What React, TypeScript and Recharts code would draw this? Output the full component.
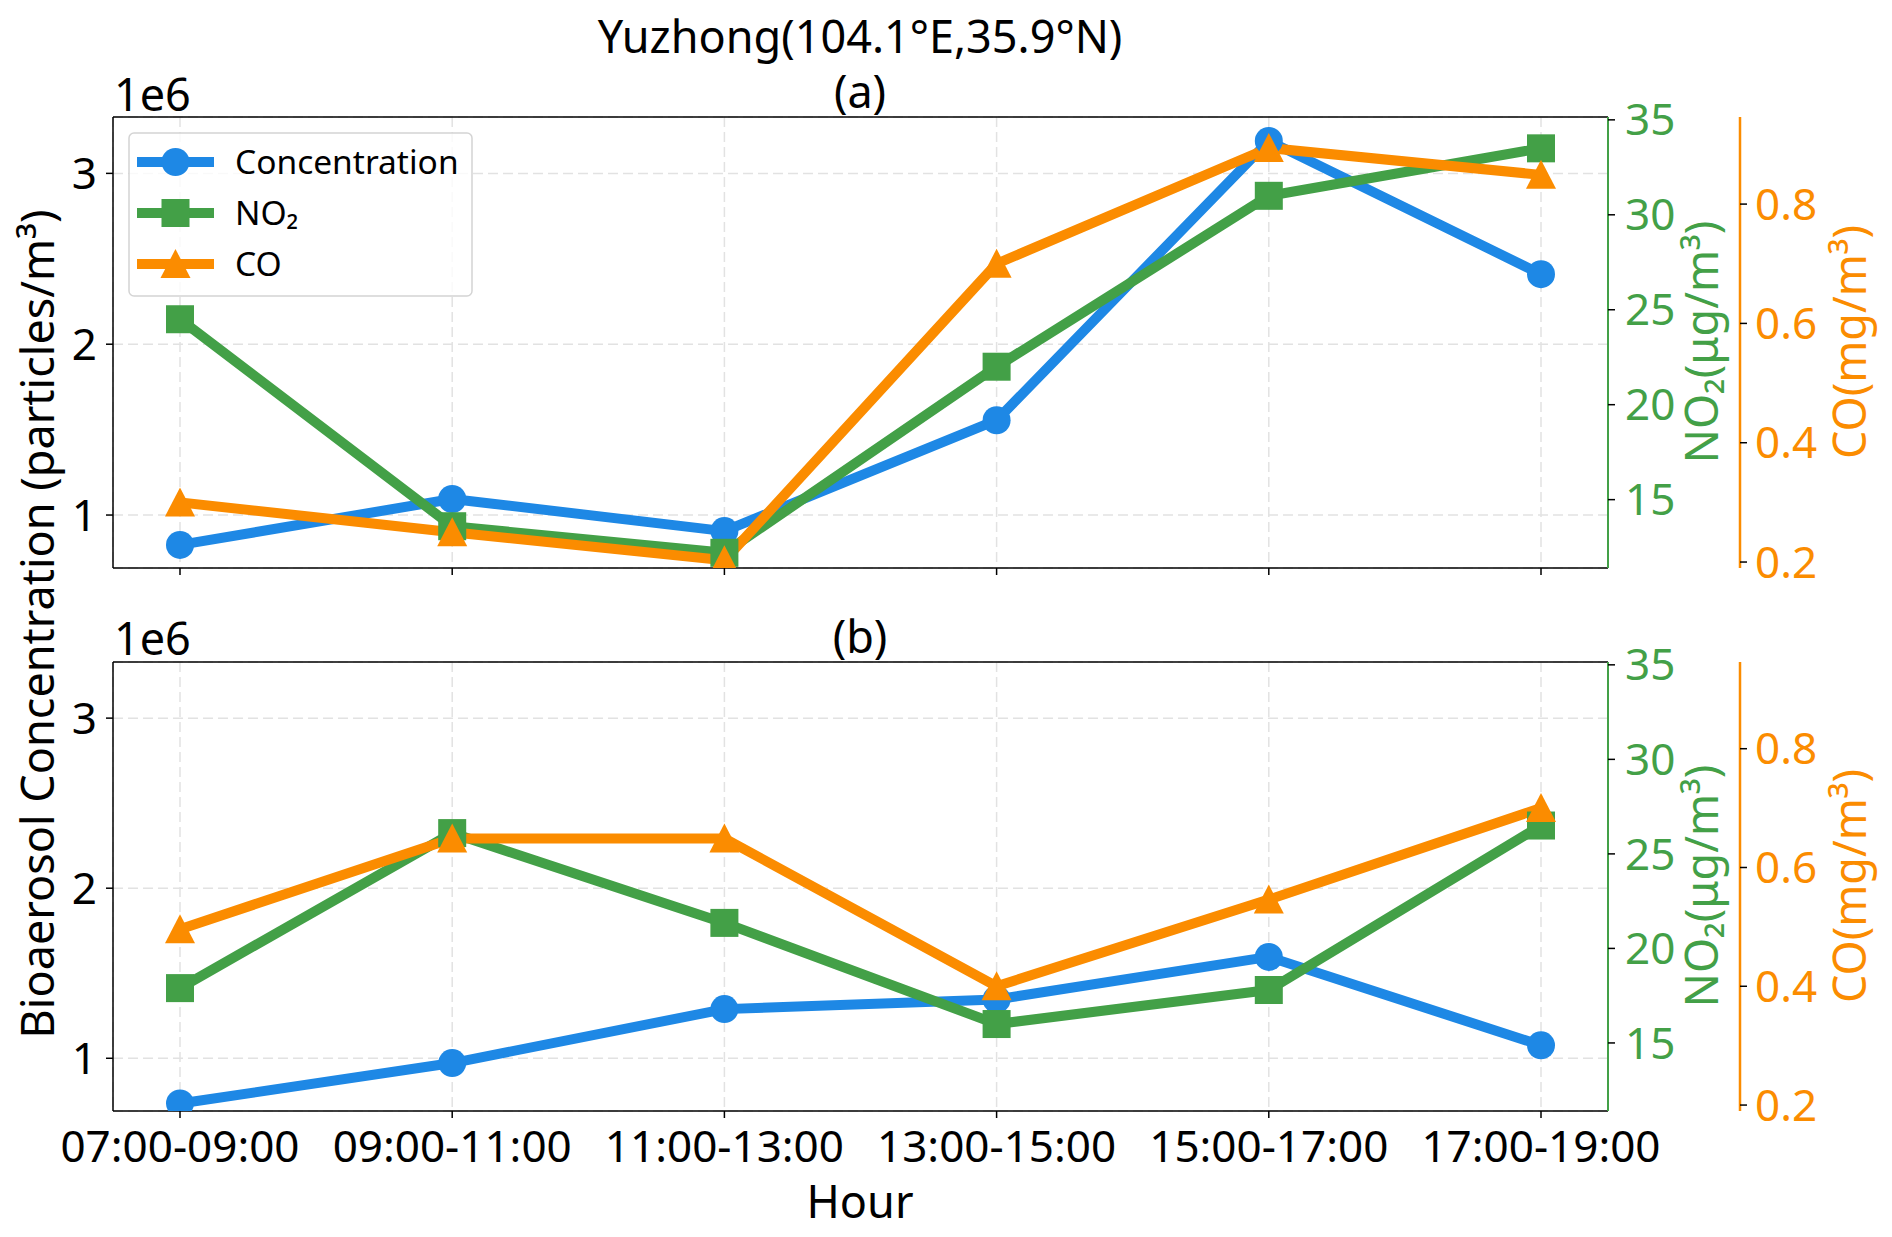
import { CartesianGrid, Line, LineChart, ReferenceLine, XAxis, YAxis } from "recharts";

const hours = ["07:00-09:00", "09:00-11:00", "11:00-13:00", "13:00-15:00", "15:00-17:00", "17:00-19:00"];

// panel (a)
const concA = [825000, 1094000, 906000, 1555000, 3190000, 2410000];
const no2A = [24.5, 13.6, 12.2, 22.0, 31.0, 33.5];
const coA = [0.3, 0.25, 0.203, 0.7, 0.894, 0.849];

// panel (b)
const concB = [734000, 972000, 1289000, 1346000, 1596000, 1076000];
const no2B = [17.9, 26.1, 21.35, 16.0, 17.8, 26.5];
const coB = [0.496, 0.649, 0.649, 0.4, 0.546, 0.7];

const concTicks = [1000000, 2000000, 3000000];
const no2Ticks = [15, 20, 25, 30, 35];
const coTicks = [0.2, 0.4, 0.6, 0.8];

const CONC_DOMAIN = [690000, 3330000];
const NO2_DOMAIN = [11.4, 35.15];
const CO_DOMAIN = [0.19, 0.946];

const BLUE = "#1E88E5";
const GREEN = "#43A047";
const ORANGE = "#FB8C00";
const FONT = '"Noto Sans", sans-serif';

const circleDot = (p: any) =>
  p.cx == null ? null : <circle key={`c-${p.index}`} cx={p.cx} cy={p.cy} r={14} fill={BLUE} />;
const squareDot = (p: any) =>
  p.cx == null ? null : (
    <rect key={`s-${p.index}`} x={p.cx - 14} y={p.cy - 14} width={28} height={28} fill={GREEN} />
  );
const triangleDot = (p: any) =>
  p.cx == null ? null : (
    <polygon
      key={`t-${p.index}`}
      points={`${p.cx},${p.cy - 15} ${p.cx - 15},${p.cy + 14} ${p.cx + 15},${p.cy + 14}`}
      fill={ORANGE}
    />
  );

interface PanelProps {
  conc: number[];
  no2: number[];
  co: number[];
  top: number;
  height: number;
  margin: { top: number; right: number; bottom: number; left: number };
  xHeight: number;
  showLabels: boolean;
}

function Panel({ conc, no2, co, top, height, margin, xHeight, showLabels }: PanelProps) {
  const data = hours.map((hour, i) => ({ hour, conc: conc[i], no2: no2[i], co: co[i] }));
  const tickStyle = { fill: "#000", fontSize: 44, fontFamily: FONT };

  return (
    <div style={{ position: "absolute", left: 0, top }}>
      <LineChart width={1892} height={height} data={data} margin={margin}>
        <CartesianGrid
          yAxisId="left"
          stroke="#e2e2e2"
          strokeWidth={1.5}
          strokeDasharray="10 5"
        />
        <XAxis
          dataKey="hour"
          interval={0}
          height={xHeight}
          padding={{ left: 67, right: 67 }}
          tickSize={7}
          tickMargin={13}
          tick={tickStyle}
          tickFormatter={(v: string) => (showLabels ? v : "")}
          axisLine={{ stroke: "#000", strokeWidth: 1.5 }}
          tickLine={{ stroke: "#000", strokeWidth: 1.5 }}
        />
        <YAxis
          yAxisId="left"
          width={100}
          domain={CONC_DOMAIN}
          ticks={concTicks}
          allowDataOverflow
          tickSize={7}
          tickMargin={9}
          tick={tickStyle}
          tickFormatter={(v: number) => String(v / 1000000)}
          axisLine={{ stroke: "#000", strokeWidth: 1.5 }}
          tickLine={{ stroke: "#000", strokeWidth: 1.5 }}
        />
        <YAxis
          yAxisId="r1_no2"
          orientation="right"
          width={132}
          domain={NO2_DOMAIN}
          ticks={no2Ticks}
          allowDataOverflow
          tickSize={7}
          tickMargin={10}
          tick={{ ...tickStyle, fill: GREEN }}
          axisLine={{ stroke: GREEN, strokeWidth: 2 }}
          tickLine={{ stroke: "#000", strokeWidth: 1.5 }}
        />
        <YAxis
          yAxisId="r2_co"
          orientation="right"
          width={130}
          domain={CO_DOMAIN}
          ticks={coTicks}
          allowDataOverflow
          tickSize={7}
          tickMargin={8}
          tick={{ ...tickStyle, fill: ORANGE }}
          axisLine={{ stroke: ORANGE, strokeWidth: 2.5 }}
          tickLine={{ stroke: "#000", strokeWidth: 1.5 }}
        />
        <ReferenceLine yAxisId="left" y={CONC_DOMAIN[1]} stroke="#000" strokeWidth={1.5} />
        <Line
          yAxisId="left"
          type="linear"
          dataKey="conc"
          stroke={BLUE}
          strokeWidth={10}
          strokeLinejoin="round"
          dot={circleDot}
          activeDot={false}
          isAnimationActive={false}
        />
        <Line
          yAxisId="r1_no2"
          type="linear"
          dataKey="no2"
          stroke={GREEN}
          strokeWidth={10}
          strokeLinejoin="round"
          dot={squareDot}
          activeDot={false}
          isAnimationActive={false}
        />
        <Line
          yAxisId="r2_co"
          type="linear"
          dataKey="co"
          stroke={ORANGE}
          strokeWidth={10}
          strokeLinejoin="round"
          dot={triangleDot}
          activeDot={false}
          isAnimationActive={false}
        />
      </LineChart>
    </div>
  );
}

const legendItems = [
  { label: "Concentration", color: BLUE, dot: circleDot },
  { label: "NO₂", color: GREEN, dot: squareDot },
  { label: "CO", color: ORANGE, dot: triangleDot },
];

function Overlay() {
  const text = { fontFamily: FONT, fontSize: 45, fill: "#000" };
  return (
    <svg
      width={1892}
      height={1237}
      style={{ position: "absolute", left: 0, top: 0, pointerEvents: "none" }}
    >
      <text x={860} y={53} textAnchor="middle" {...text} fontSize={45}>
        Yuzhong(104.1°E,35.9°N)
      </text>
      <text x={860} y={108} textAnchor="middle" {...text}>(a)</text>
      <text x={114} y={111} {...text}>1e6</text>
      <text x={860} y={653} textAnchor="middle" {...text}>(b)</text>
      <text x={114} y={655} {...text}>1e6</text>
      <text x={860} y={1218} textAnchor="middle" {...text}>Hour</text>
      <text transform="translate(54,624) rotate(-90)" textAnchor="middle" {...text}>
        Bioaerosol Concentration (particles/m³)
      </text>
      {[342, 886].map((cy) => (
        <g key={cy}>
          <text transform={`translate(1718,${cy}) rotate(-90)`} textAnchor="middle" {...text} fill={GREEN}>
            NO₂(μg/m³)
          </text>
          <text transform={`translate(1866,${cy}) rotate(-90)`} textAnchor="middle" {...text} fill={ORANGE}>
            CO(mg/m³)
          </text>
        </g>
      ))}
      <rect x={129} y={133} width={343} height={163} rx={5} fill="#fff" fillOpacity={0.8} stroke="#d4d4d4" strokeWidth={1.5} />
      {legendItems.map((item, i) => {
        const cy = 162 + i * 51;
        return (
          <g key={item.label}>
            <line x1={137} x2={214} y1={cy} y2={cy} stroke={item.color} strokeWidth={10} />
            {item.dot({ cx: 175.5, cy, index: i })}
            <text x={235} y={cy + 12} fontFamily={FONT} fontSize={33.5} fill="#000">
              {item.label}
            </text>
          </g>
        );
      })}
    </svg>
  );
}

export default function App() {
  return (
    <div style={{ position: "absolute", left: 0, top: 0, width: 1892, height: 1237, background: "#fff" }}>
      <Panel
        conc={concA}
        no2={no2A}
        co={coA}
        top={0}
        height={620}
        margin={{ top: 117, right: 22, bottom: 22, left: 13 }}
        xHeight={30}
        showLabels={false}
      />
      <Panel
        conc={concB}
        no2={no2B}
        co={coB}
        top={620}
        height={617}
        margin={{ top: 42, right: 22, bottom: 46, left: 13 }}
        xHeight={80}
        showLabels
      />
      <Overlay />
    </div>
  );
}
